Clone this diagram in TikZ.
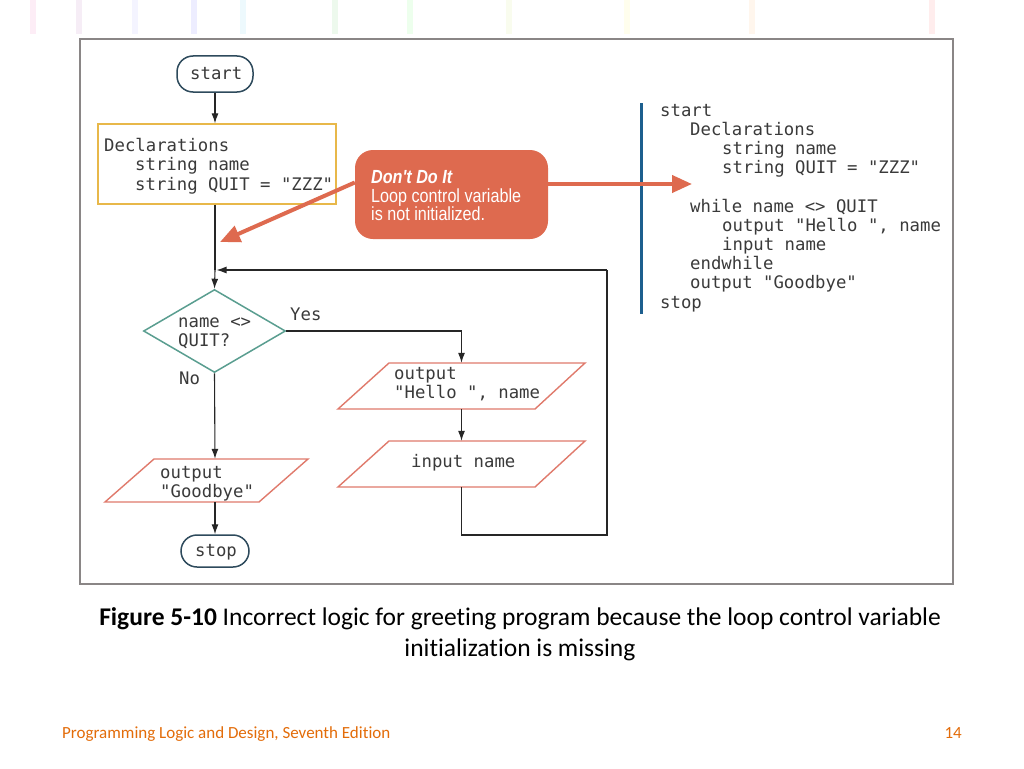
\documentclass[tikz,border=0pt]{standalone}
\usepackage{fontspec}
\usetikzlibrary{shapes.geometric,arrows.meta}
\newfontfamily\codefont{DejaVu Sans Mono}
\newfontfamily\callfont[FakeStretch=0.85]{Liberation Sans}
\newfontfamily\capfont[Ligatures=NoCommon]{Carlito}
\definecolor{frameGray}{HTML}{8A8686}
\definecolor{termBlue}{HTML}{2E4A5C}
\definecolor{declGold}{HTML}{E8B84A}
\definecolor{diaTeal}{HTML}{5A9E90}
\definecolor{ioRed}{HTML}{E07A6C}
\definecolor{callRed}{HTML}{DE6A4F}
\definecolor{barBlue}{HTML}{1D5F8E}
\definecolor{footOrange}{HTML}{E36C09}
\definecolor{codeGray}{HTML}{3A3A3A}
\tikzset{
  code/.style={font=\codefont\fontsize{17.3}{19.3}\selectfont, text=codeGray, inner sep=0pt, anchor=base west},
  term/.style={draw=termBlue, line width=1.5pt, rounded corners=16pt, fill=white, inner sep=0pt},
  flow/.style={draw=black!85, line width=1.1pt},
  flowarr/.style={flow, -{Latex[length=10pt,width=7pt]}},
  iobox/.style={draw=ioRed, line width=1.4pt, line join=miter},
  anch/.style={inner sep=0pt, draw=none},
  callarr/.style={draw=callRed, line width=4pt, -{Triangle[length=20pt,width=17pt]}},
  stripe/.style={line width=6pt, opacity=0.07},
  calltext/.style={inner sep=0pt, anchor=base west, text=white, font=\callfont\fontsize{19}{19}\selectfont},
}
\begin{document}
\begin{tikzpicture}[x=1pt,y=-1pt]
\useasboundingbox (0,0) rectangle (1024,768);
\fill[white] (0,0) rectangle (1024,768);
% faint decorative stripes
\foreach \xx/\cc in {33/magenta,79/violet,135/blue!60,194/blue,243/cyan,335/green!70!black,410/green,509/yellow!70!green,627/yellow,752/orange,932/red}
  \draw[stripe,draw=\cc] (\xx,0) -- (\xx,34);
% frame
\draw[frameGray, line width=2.2pt] (80,39) rectangle (953,584);

% start
\node[term, minimum width=76pt, minimum height=36pt] (start) at (215,74) {};
\node[code] (starttxt) at (190,79.5) {start};
% declarations
\node[anch, draw=declGold, line width=1.3pt, minimum width=238pt, minimum height=80pt] (decl) at (217,164) {};
\node[code] (decl1) at (104,151) {Declarations};
\node[code] (decl2) at (135,170.5) {string name};
\node[code] (decl3) at (135,190) {string QUIT = "ZZZ"};
% merge point
\coordinate (merge) at (215,270);
% diamond
\node[diamond, draw=diaTeal, line width=1.5pt, minimum width=142pt, minimum height=83pt, inner sep=0pt, aspect=1.7] (dia) at (214.5,331) {};
\node[code] (dia1) at (178,327.7) {name <>};
\node[code] (dia2) at (178,346.7) {QUIT?};
\node[code] (yes) at (290,320.7) {Yes};
\node[code] (no) at (179,384) {No};
% Hello output
\draw[iobox] (389,363) -- (585,363) -- (535,409) -- (338,409) -- cycle;
\node[anch, minimum height=46pt, minimum width=150pt] (hello) at (461.5,386) {};
\node[code] (hello1) at (394,379) {output};
\node[code] (hello2) at (394,398.5) {"Hello ", name};
% input name
\draw[iobox] (389,441) -- (585,441) -- (535,487) -- (338,487) -- cycle;
\node[anch, minimum height=46pt, minimum width=150pt] (inp) at (461.5,464) {};
\node[code] (inptxt) at (411,467.7) {input name};
% Goodbye output
\draw[iobox] (154,459) -- (308,459) -- (259,502) -- (105,502) -- cycle;
\node[anch, minimum height=43pt, minimum width=110pt] (bye) at (215,480.5) {};
\node[code] (bye1) at (160,478) {output};
\node[code] (bye2) at (160,497) {"Goodbye"};
% stop
\node[term, minimum width=68pt, minimum height=32pt] (stop) at (215,551) {};
\node[code] (stoptxt) at (195,556.5) {stop};
% loop corners
\coordinate (lb) at (461.5,535);
\coordinate (rb) at (607,535);
\coordinate (rt) at (607,270);

% connectors
\draw[flowarr] (start.south) -- (decl.north -| start.south);
\draw[flow] (decl.south -| start.south) -- (merge);
\draw[flowarr] (merge) -- (dia.north);
\draw[flowarr] (dia.east) -| (hello.north);
\draw[flowarr] (hello.south) -- (inp.north);
\draw[flow] (inp.south) -- (lb) -- (rb) -- (rt);
\draw[flowarr] (rt) -- ([xshift=1.5pt]merge);
\draw[flowarr] (dia.south) -- (bye.north);
\draw[flowarr] (bye.south) -- (stop.north);

% callout
\node[fill=callRed, rounded corners=18pt, minimum width=193pt, minimum height=89pt, inner sep=0pt] (call) at (451.5,194.5) {};
\node[calltext] (calltxt1) at (371,183) {\bfseries\itshape Don't Do It};
\node[calltext] (calltxt2) at (371,202) {Loop control variable};
\node[calltext] (calltxt3) at (371,220.5) {is not initialized.};
\coordinate (tipL) at (220,242);
\coordinate (tipR) at (692,184);
\draw[callarr] ([yshift=12pt]call.west) -- (tipL);

% pseudocode bar
\draw[barBlue, line width=3pt] (641,103) coordinate (bartop) -- (641,314) coordinate (barbot);
\draw[callarr] (call.east |- tipR) -- (tipR);
\node[code] (p1) at (660,116) {start};
\node[code] (p2) at (690,135.2) {Declarations};
\node[code] (p3) at (722,154.4) {string name};
\node[code] (p4) at (722,173.6) {string QUIT = "ZZZ"};
\node[code] (p5) at (690,212) {while name <> QUIT};
\node[code] (p6) at (722,231.2) {output "Hello ", name};
\node[code] (p7) at (722,250.4) {input name};
\node[code] (p8) at (690,269.6) {endwhile};
\node[code] (p9) at (690,288.8) {output "Goodbye"};
\node[code] (p10) at (660,308) {stop};

% caption
\node[font=\capfont\fontsize{25.5}{31}\selectfont, align=center, inner sep=0pt] (caption) at (520,634) {\textbf{Figure 5-10} Incorrect logic for greeting program because the loop control variable\\initialization is missing};
\node[font=\capfont\fontsize{17}{18}\selectfont, text=footOrange, anchor=base west, inner sep=0pt] (foot) at (62,738) {Programming Logic and Design, Seventh Edition};
\node[font=\capfont\fontsize{17}{18}\selectfont, text=footOrange, anchor=base east, inner sep=0pt] (page) at (962,738) {14};
\end{tikzpicture}
\end{document}
